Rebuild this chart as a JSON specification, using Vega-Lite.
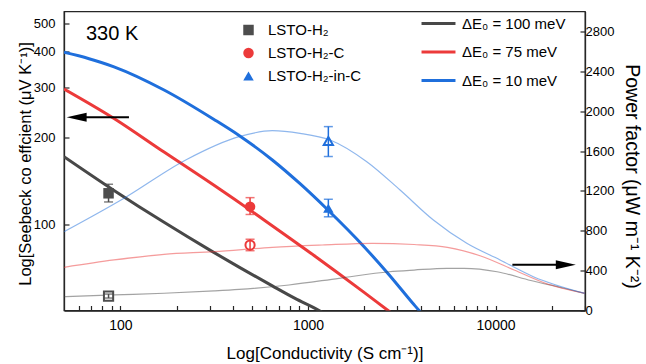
{
  "$schema": "https://vega.github.io/schema/vega-lite/v6.json",
  "width": 521,
  "height": 299,
  "autosize": {"type": "none"},
  "padding": {"left": 64, "top": 11.5, "right": 61, "bottom": 53.5},
  "config": {
    "font": "Liberation Sans",
    "view": {"stroke": "#262626", "strokeWidth": 1.3},
    "axis": {"grid": false, "domainColor": "#262626", "domainWidth": 1.3, "tickColor": "#262626", "tickWidth": 1.2, "labelColor": "#000", "titleColor": "#000", "titleFontWeight": "normal", "labelFont": "Liberation Sans", "titleFont": "Liberation Sans"},
    "legend": {"labelFont": "Liberation Sans", "labelColor": "#000"}
  },
  "datasets": {
    "seebeck": [
      {"model": "ΔE₀ = 100 meV", "sigma": 50, "S": 171.7},
      {"model": "ΔE₀ = 100 meV", "sigma": 92.4, "S": 131},
      {"model": "ΔE₀ = 100 meV", "sigma": 170.8, "S": 101.4},
      {"model": "ΔE₀ = 100 meV", "sigma": 303, "S": 80.8},
      {"model": "ΔE₀ = 100 meV", "sigma": 429, "S": 70.8},
      {"model": "ΔE₀ = 100 meV", "sigma": 645.5, "S": 60.9},
      {"model": "ΔE₀ = 100 meV", "sigma": 853, "S": 55.1},
      {"model": "ΔE₀ = 100 meV", "sigma": 1146, "S": 50},
      {"model": "ΔE₀ = 100 meV", "sigma": 1233, "S": 48.6},
      {"model": "ΔE₀ = 75 meV", "sigma": 50, "S": 295.4},
      {"model": "ΔE₀ = 75 meV", "sigma": 92.4, "S": 233.2},
      {"model": "ΔE₀ = 75 meV", "sigma": 170.8, "S": 178.1},
      {"model": "ΔE₀ = 75 meV", "sigma": 315.5, "S": 136.4},
      {"model": "ΔE₀ = 75 meV", "sigma": 583, "S": 103.4},
      {"model": "ΔE₀ = 75 meV", "sigma": 1077, "S": 77.7},
      {"model": "ΔE₀ = 75 meV", "sigma": 1991, "S": 57.8},
      {"model": "ΔE₀ = 75 meV", "sigma": 2650, "S": 50.2},
      {"model": "ΔE₀ = 75 meV", "sigma": 2808, "S": 48.8},
      {"model": "ΔE₀ = 10 meV", "sigma": 50, "S": 396.6},
      {"model": "ΔE₀ = 10 meV", "sigma": 68, "S": 376.7},
      {"model": "ΔE₀ = 10 meV", "sigma": 92.4, "S": 353},
      {"model": "ΔE₀ = 10 meV", "sigma": 170.8, "S": 293.1},
      {"model": "ΔE₀ = 10 meV", "sigma": 315.5, "S": 231.4},
      {"model": "ΔE₀ = 10 meV", "sigma": 429, "S": 203.5},
      {"model": "ΔE₀ = 10 meV", "sigma": 645.5, "S": 167.2},
      {"model": "ΔE₀ = 10 meV", "sigma": 907, "S": 138.2},
      {"model": "ΔE₀ = 10 meV", "sigma": 1269, "S": 112.4},
      {"model": "ΔE₀ = 10 meV", "sigma": 1991, "S": 83.4},
      {"model": "ΔE₀ = 10 meV", "sigma": 2705, "S": 66.6},
      {"model": "ΔE₀ = 10 meV", "sigma": 3602, "S": 53.2},
      {"model": "ΔE₀ = 10 meV", "sigma": 3911, "S": 50},
      {"model": "ΔE₀ = 10 meV", "sigma": 4159, "S": 47.6}
    ],
    "pf": [
      {"model": "ΔE₀ = 100 meV", "sigma": 50, "PF": 138},
      {"model": "ΔE₀ = 100 meV", "sigma": 92.4, "PF": 156},
      {"model": "ΔE₀ = 100 meV", "sigma": 170.8, "PF": 173},
      {"model": "ΔE₀ = 100 meV", "sigma": 315.5, "PF": 196},
      {"model": "ΔE₀ = 100 meV", "sigma": 429, "PF": 211},
      {"model": "ΔE₀ = 100 meV", "sigma": 792, "PF": 256},
      {"model": "ΔE₀ = 100 meV", "sigma": 1464, "PF": 323},
      {"model": "ΔE₀ = 100 meV", "sigma": 2705, "PF": 389},
      {"model": "ΔE₀ = 100 meV", "sigma": 3679, "PF": 406},
      {"model": "ΔE₀ = 100 meV", "sigma": 5516, "PF": 423},
      {"model": "ΔE₀ = 100 meV", "sigma": 6797, "PF": 423},
      {"model": "ΔE₀ = 100 meV", "sigma": 10193, "PF": 389},
      {"model": "ΔE₀ = 100 meV", "sigma": 15420, "PF": 301},
      {"model": "ΔE₀ = 100 meV", "sigma": 23213, "PF": 223},
      {"model": "ΔE₀ = 100 meV", "sigma": 30000, "PF": 171},
      {"model": "ΔE₀ = 75 meV", "sigma": 50, "PF": 433},
      {"model": "ΔE₀ = 75 meV", "sigma": 92.4, "PF": 507},
      {"model": "ΔE₀ = 75 meV", "sigma": 170.8, "PF": 564},
      {"model": "ΔE₀ = 75 meV", "sigma": 315.5, "PF": 590},
      {"model": "ΔE₀ = 75 meV", "sigma": 645.5, "PF": 634},
      {"model": "ΔE₀ = 75 meV", "sigma": 1193, "PF": 657},
      {"model": "ΔE₀ = 75 meV", "sigma": 2204, "PF": 674},
      {"model": "ΔE₀ = 75 meV", "sigma": 3679, "PF": 662},
      {"model": "ΔE₀ = 75 meV", "sigma": 5538, "PF": 634},
      {"model": "ΔE₀ = 75 meV", "sigma": 8343, "PF": 547},
      {"model": "ΔE₀ = 75 meV", "sigma": 12560, "PF": 406},
      {"model": "ΔE₀ = 75 meV", "sigma": 18905, "PF": 266},
      {"model": "ΔE₀ = 75 meV", "sigma": 30000, "PF": 171},
      {"model": "ΔE₀ = 10 meV", "sigma": 50, "PF": 790},
      {"model": "ΔE₀ = 10 meV", "sigma": 104.5, "PF": 1126},
      {"model": "ΔE₀ = 10 meV", "sigma": 222.9, "PF": 1510},
      {"model": "ΔE₀ = 10 meV", "sigma": 429, "PF": 1744},
      {"model": "ΔE₀ = 10 meV", "sigma": 645.5, "PF": 1804},
      {"model": "ΔE₀ = 10 meV", "sigma": 907, "PF": 1778},
      {"model": "ΔE₀ = 10 meV", "sigma": 1312, "PF": 1711},
      {"model": "ΔE₀ = 10 meV", "sigma": 2058, "PF": 1493},
      {"model": "ΔE₀ = 10 meV", "sigma": 3097, "PF": 1209},
      {"model": "ΔE₀ = 10 meV", "sigma": 4663, "PF": 908},
      {"model": "ΔE₀ = 10 meV", "sigma": 7026, "PF": 674},
      {"model": "ΔE₀ = 10 meV", "sigma": 10576, "PF": 507},
      {"model": "ΔE₀ = 10 meV", "sigma": 15918, "PF": 339},
      {"model": "ΔE₀ = 10 meV", "sigma": 30000, "PF": 171}
    ],
    "points": [
      {"sample": "LSTO-H₂", "sigma": 86.4, "S": 128, "S_lo": 119.4, "S_hi": 137.6, "PF": 145, "PF_lo": 125, "PF_hi": 165},
      {"sample": "LSTO-H₂-C", "sigma": 491, "S": 115, "S_lo": 108, "S_hi": 123.6, "PF": 657, "PF_lo": 600, "PF_hi": 715},
      {"sample": "LSTO-H₂-in-C", "sigma": 1284, "S": 113.5, "S_lo": 106, "S_hi": 122, "PF": 1701, "PF_lo": 1545, "PF_hi": 1845}
    ],
    "arrowL": [{"sigma": 111, "sigma2": 58.4, "S": 235.4}],
    "arrowR": [{"sigma": 12300, "sigma2": 23700, "PF": 460}],
    "label": [{"sigma": 65.5, "S": 437, "text": "330 K"}]
  },
  "layer": [
    {
      "layer": [
        {
          "data": {"name": "seebeck"},
          "mark": {"type": "line", "strokeWidth": 3, "clip": true, "interpolate": "monotone"},
          "encoding": {
            "x": {"field": "sigma", "type": "quantitative", "scale": {"type": "log", "domain": [50, 30000], "nice": false},
              "axis": {"orient": "bottom", "title": "Log[Conductivity (S cm⁻¹)]", "titleFontSize": 17, "titlePadding": 13, "labelFontSize": 14, "tickSize": -5, "labelPadding": 13,
                "values": [60, 70, 80, 90, 100, 200, 300, 400, 500, 600, 700, 800, 900, 1000, 2000, 3000, 4000, 5000, 6000, 7000, 8000, 9000, 10000, 20000, 30000],
                "labelExpr": "(datum.value == 100 || datum.value == 1000 || datum.value == 10000) ? format(datum.value, 'd') : ''", "labelOverlap": false}},
            "y": {"field": "S", "type": "quantitative", "scale": {"type": "log", "domain": [50, 550], "nice": false},
              "axis": {"orient": "left", "title": "Log[Seebeck co effcient (μV K⁻¹)]", "titleFontSize": 16.5, "titlePadding": 0, "titleY": 152, "labelFontSize": 13, "tickSize": -5, "labelPadding": 14, "values": [100, 200, 300, 400, 500], "format": "d"}},
            "stroke": {"field": "model", "type": "nominal",
              "scale": {"domain": ["ΔE₀ = 100 meV", "ΔE₀ = 75 meV", "ΔE₀ = 10 meV"], "range": ["#484848", "#ec3a3a", "#1f6fdc"]},
              "legend": {"orient": "none", "legendX": 367, "legendY": 4.5, "title": null, "symbolType": "M-2.83,0H2.83", "symbolSize": 144, "symbolStrokeWidth": 3, "symbolOpacity": 1, "labelFontSize": 15, "rowPadding": 12.5, "labelOffset": 16,
                "encode": {"symbols": {"update": {"opacity": {"value": 1}, "strokeOpacity": {"value": 1}}}}}}
          }
        },
        {
          "data": {"name": "points"},
          "mark": {"type": "errorbar", "ticks": true, "thickness": 1.5, "size": 9},
          "encoding": {
            "x": {"field": "sigma", "type": "quantitative", "scale": {"type": "log", "domain": [50, 30000], "nice": false}},
            "y": {"field": "S_lo", "type": "quantitative", "title": "Log[Seebeck co effcient (μV K⁻¹)]", "scale": {"type": "log", "domain": [50, 550], "nice": false}},
            "y2": {"field": "S_hi"},
            "color": {"field": "sample", "type": "nominal", "scale": {"domain": ["LSTO-H₂", "LSTO-H₂-C", "LSTO-H₂-in-C"], "range": ["#4d4d4d", "#ec3a3a", "#1f6fdc"]}}
          }
        },
        {
          "data": {"name": "points"},
          "mark": {"type": "point", "filled": true, "size": 110, "opacity": 1},
          "encoding": {
            "x": {"field": "sigma", "type": "quantitative", "scale": {"type": "log", "domain": [50, 30000], "nice": false}},
            "y": {"field": "S", "type": "quantitative", "scale": {"type": "log", "domain": [50, 550], "nice": false}},
            "color": {"field": "sample", "type": "nominal", "scale": {"domain": ["LSTO-H₂", "LSTO-H₂-C", "LSTO-H₂-in-C"], "range": ["#4d4d4d", "#ec3a3a", "#1f6fdc"]},
              "legend": {"orient": "none", "legendX": 177, "legendY": 11, "title": null, "symbolSize": 110, "symbolStrokeWidth": 0, "symbolOpacity": 1, "labelFontSize": 15, "rowPadding": 7, "labelOffset": 12,
                "encode": {"symbols": {"update": {"opacity": {"value": 1}, "fillOpacity": {"value": 1}}}}}},
            "shape": {"field": "sample", "type": "nominal", "scale": {"domain": ["LSTO-H₂", "LSTO-H₂-C", "LSTO-H₂-in-C"], "range": ["square", "circle", "triangle-up"]},
              "legend": {"orient": "none", "legendX": 177, "legendY": 11, "title": null, "symbolSize": 110, "symbolStrokeWidth": 0, "symbolOpacity": 1, "labelFontSize": 15, "rowPadding": 7, "labelOffset": 12,
                "encode": {"symbols": {"update": {"opacity": {"value": 1}, "fillOpacity": {"value": 1}}}}}}
          }
        },
        {
          "data": {"name": "arrowL"},
          "mark": {"type": "rule", "strokeWidth": 2, "color": "#000"},
          "encoding": {
            "x": {"field": "sigma", "type": "quantitative", "scale": {"type": "log", "domain": [50, 30000], "nice": false}},
            "x2": {"field": "sigma2"},
            "y": {"field": "S", "type": "quantitative", "scale": {"type": "log", "domain": [50, 550], "nice": false}}
          }
        },
        {
          "data": {"name": "arrowL"},
          "mark": {"type": "point", "shape": "M -1 0 L 1 -0.45 L 1 0.45 Z", "size": 400, "filled": true, "color": "#000", "opacity": 1},
          "encoding": {
            "x": {"field": "sigma2", "type": "quantitative", "scale": {"type": "log", "domain": [50, 30000], "nice": false}},
            "y": {"field": "S", "type": "quantitative", "scale": {"type": "log", "domain": [50, 550], "nice": false}}
          }
        },
        {
          "data": {"name": "label"},
          "mark": {"type": "text", "fontSize": 20, "align": "left", "baseline": "alphabetic", "color": "#000"},
          "encoding": {
            "x": {"field": "sigma", "type": "quantitative", "scale": {"type": "log", "domain": [50, 30000], "nice": false}},
            "y": {"field": "S", "type": "quantitative", "scale": {"type": "log", "domain": [50, 550], "nice": false}},
            "text": {"field": "text"}
          }
        }
      ]
    },
    {
      "layer": [
        {
          "data": {"name": "pf"},
          "mark": {"type": "line", "strokeWidth": 1.2, "strokeOpacity": 0.5, "clip": true, "interpolate": "monotone"},
          "encoding": {
            "x": {"field": "sigma", "type": "quantitative", "scale": {"type": "log", "domain": [50, 30000], "nice": false}},
            "y": {"field": "PF", "type": "quantitative", "scale": {"domain": [0, 3000], "nice": false},
              "axis": {"orient": "right", "title": "Power factor (μW m⁻¹ K⁻²)", "titleFontSize": 19.5, "titlePadding": 8, "titleY": 164.5, "labelFontSize": 13, "tickSize": -5, "labelPadding": 5,
                "values": [0, 200, 400, 600, 800, 1000, 1200, 1400, 1600, 1800, 2000, 2200, 2400, 2600, 2800], "format": "d",
                "labelExpr": "datum.value % 400 == 0 ? datum.label : ''"}},
            "stroke": {"field": "model", "type": "nominal", "scale": {"domain": ["ΔE₀ = 100 meV", "ΔE₀ = 75 meV", "ΔE₀ = 10 meV"], "range": ["#484848", "#ec3a3a", "#1f6fdc"]}}
          }
        },
        {
          "data": {"name": "points"},
          "mark": {"type": "point", "filled": false, "fill": "#fff", "fillOpacity": 1, "strokeWidth": 2, "size": 85, "opacity": 1},
          "encoding": {
            "x": {"field": "sigma", "type": "quantitative", "scale": {"type": "log", "domain": [50, 30000], "nice": false}},
            "y": {"field": "PF", "type": "quantitative", "scale": {"domain": [0, 3000], "nice": false}},
            "color": {"field": "sample", "type": "nominal", "scale": {"domain": ["LSTO-H₂", "LSTO-H₂-C", "LSTO-H₂-in-C"], "range": ["#4d4d4d", "#ec3a3a", "#1f6fdc"]}},
            "shape": {"field": "sample", "type": "nominal", "scale": {"domain": ["LSTO-H₂", "LSTO-H₂-C", "LSTO-H₂-in-C"], "range": ["square", "circle", "triangle-up"]}}
          }
        },
        {
          "data": {"name": "points"},
          "mark": {"type": "errorbar", "ticks": true, "thickness": 1.5, "size": 9},
          "encoding": {
            "x": {"field": "sigma", "type": "quantitative", "scale": {"type": "log", "domain": [50, 30000], "nice": false}},
            "y": {"field": "PF_lo", "type": "quantitative", "title": "Power factor (μW m⁻¹ K⁻²)", "scale": {"domain": [0, 3000], "nice": false}},
            "y2": {"field": "PF_hi"},
            "color": {"field": "sample", "type": "nominal", "scale": {"domain": ["LSTO-H₂", "LSTO-H₂-C", "LSTO-H₂-in-C"], "range": ["#4d4d4d", "#ec3a3a", "#1f6fdc"]}}
          }
        },
        {
          "data": {"name": "arrowR"},
          "mark": {"type": "rule", "strokeWidth": 2, "color": "#000"},
          "encoding": {
            "x": {"field": "sigma", "type": "quantitative", "scale": {"type": "log", "domain": [50, 30000], "nice": false}},
            "x2": {"field": "sigma2"},
            "y": {"field": "PF", "type": "quantitative", "scale": {"domain": [0, 3000], "nice": false}}
          }
        },
        {
          "data": {"name": "arrowR"},
          "mark": {"type": "point", "shape": "M 1 0 L -1 -0.45 L -1 0.45 Z", "size": 400, "filled": true, "color": "#000", "opacity": 1},
          "encoding": {
            "x": {"field": "sigma2", "type": "quantitative", "scale": {"type": "log", "domain": [50, 30000], "nice": false}},
            "y": {"field": "PF", "type": "quantitative", "scale": {"domain": [0, 3000], "nice": false}}
          }
        }
      ]
    }
  ],
  "resolve": {"scale": {"y": "independent"}}
}
